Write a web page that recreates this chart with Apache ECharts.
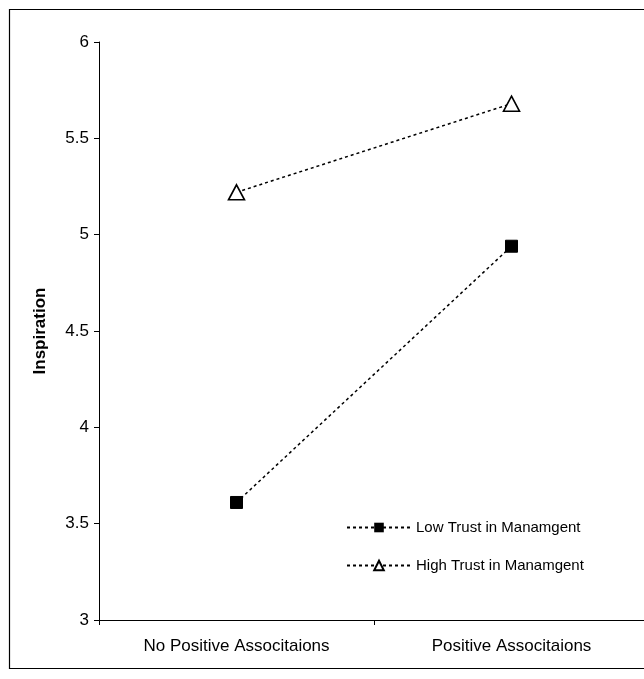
<!DOCTYPE html>
<html>
<head>
<meta charset="utf-8">
<script src="https://cdn.jsdelivr.net/npm/echarts@6/dist/echarts.min.js"></script>
<style>
html,body{margin:0;padding:0;overflow:hidden;background:#fff;}
#c{width:700px;height:679px;}
</style>
</head>
<body>
<div id="c"></div>
<script>
var categories = ['No Positive Associtaions', 'Positive Associtaions'];
var lowTrust = [3.61, 4.94];
var highTrust = [5.22, 5.68];
var seriesNames = ['Low Trust in Manamgent', 'High Trust in Manamgent'];
var yMin = 3, yMax = 6, yInterval = 0.5;
var yAxisName = 'Inspiration';

var chart = echarts.init(document.getElementById('c'), null, {renderer: 'canvas'});
var font = 'Liberation Sans, Arial, sans-serif';
chart.setOption({
  animation: false,
  backgroundColor: '#fff',
  graphic: [{
    type: 'rect',
    shape: {x: 9.5, y: 9.5, width: 800, height: 659},
    style: {fill: 'none', stroke: '#000', lineWidth: 1.2},
    silent: true
  }],
  grid: {left: 99, top: 42, width: 550, height: 578, containLabel: false},
  legend: {
    orient: 'vertical',
    left: 341, top: 515,
    itemWidth: 64, itemHeight: 12,
    itemGap: 23,
    textStyle: {fontFamily: font, fontSize: 15, color: '#000', letterSpacing: -0.6},
    data: seriesNames
  },
  xAxis: {
    type: 'category',
    data: categories,
    boundaryGap: true,
    axisLine: {lineStyle: {color: '#000', width: 1}},
    axisTick: {show: true, length: 5, lineStyle: {color: '#000'}},
    axisLabel: {fontFamily: font, fontSize: 17, color: '#000', margin: 18}
  },
  yAxis: {
    type: 'value',
    min: yMin, max: yMax, interval: yInterval,
    name: yAxisName,
    nameLocation: 'middle',
    nameGap: 50,
    nameTextStyle: {fontFamily: font, fontSize: 17, fontWeight: 'bold', color: '#000'},
    axisLine: {show: true, lineStyle: {color: '#000', width: 1}},
    axisTick: {show: true, length: 5, lineStyle: {color: '#000'}},
    splitLine: {show: false},
    axisLabel: {fontFamily: font, fontSize: 17, color: '#000', margin: 10}
  },
  series: [{
    name: seriesNames[0],
    type: 'line',
    data: lowTrust,
    symbol: 'rect',
    symbolSize: 12,
    itemStyle: {color: '#000', borderColor: '#000'},
    lineStyle: {color: '#000', width: 1.5, type: [3, 3]},
    z: 3
  }, {
    name: seriesNames[1],
    type: 'line',
    data: highTrust,
    symbol: 'triangle',
    symbolSize: [16, 15],
    itemStyle: {color: '#fff', borderColor: '#000', borderWidth: 1.6},
    lineStyle: {color: '#000', width: 1.5, type: [3, 3]},
    z: 3
  }]
});
</script>
</body>
</html>
